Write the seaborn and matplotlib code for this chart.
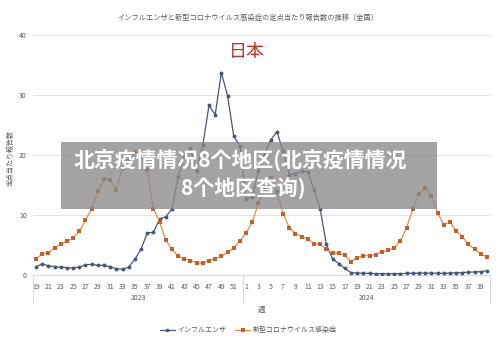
import numpy as np
import pandas as pd
import matplotlib
matplotlib.use("Agg")
import matplotlib.pyplot as plt
import matplotlib.transforms as mtransforms
from matplotlib.lines import Line2D
import seaborn as sns

# ---- data ----
weeks_2023 = list(range(19, 53))
weeks_2024 = list(range(1, 41))
week_labels = [str(w) for w in weeks_2023] + [str(w) for w in weeks_2024]

flu = [1.36, 1.86, 1.5, 1.4, 1.3, 1.2, 1.15, 1.3, 1.7, 1.75, 1.6, 1.6, 1.35, 1.03, 0.95, 1.3,
       2.6, 4.3, 7.0, 7.1, 9.3, 9.7, 11.0, 16.4, 19.7, 21.1, 17.3, 21.6, 28.3, 26.7, 33.7, 29.9,
       23.2, 21.5,
       12.6, 13.0, 17.4, 20.2, 22.5, 23.9, 20.6, 16.7, 16.9, 17.3, 17.2, 14.2, 11.0, 5.1, 2.7, 1.9,
       1.1, 0.37, 0.3, 0.28, 0.25, 0.22, 0.2, 0.2, 0.2, 0.22, 0.25, 0.28, 0.3, 0.3, 0.3, 0.28,
       0.25, 0.3, 0.35, 0.4, 0.45, 0.5, 0.55, 0.7]

covid = [2.63, 3.56, 3.63, 4.55, 5.11, 5.60, 6.13, 7.24, 9.14, 11.04, 13.91, 15.91, 15.81, 14.16,
         17.84, 19.07, 20.50, 20.19, 17.54, 11.0, 8.83, 5.8, 4.3, 3.1, 2.7, 2.4, 2.0, 2.0, 2.4, 2.7,
         3.1, 3.8, 4.5, 5.6,
         7.0, 8.8, 12.0, 14.4, 16.2, 13.9, 10.2, 7.9, 6.9, 6.4, 6.0, 5.2, 5.1, 4.3, 3.6, 3.7,
         3.3, 2.2, 2.9, 3.2, 3.2, 3.4, 3.9, 4.1, 4.5, 5.7, 7.9, 11.0, 13.5, 14.5, 13.2, 10.4,
         8.4, 8.8, 7.4, 6.4, 5.1, 4.3, 3.5, 3.0]

series_names = ["インフルエンザ", "新型コロナウイルス感染症"]
years = ["2023", "2024"]
y_ticks = [0, 10, 20, 30, 40]

title = "インフルエンザと新型コロナウイルス感染症の定点当たり報告数の推移（全国）"
ylabel = "定点当たり報告数"
xlabel = "週"
overlay_title = "日本"
watermark_line1 = "北京疫情情况8个地区(北京疫情情况"
watermark_line2 = "8个地区查询)"

# ---- style ----
sns.set_style("white")
plt.rcParams["font.family"] = ["Noto Sans CJK JP", "DejaVu Sans"]

idx = np.arange(len(flu))
df = pd.DataFrame({"idx": np.concatenate([idx, idx]),
                   "value": flu + covid,
                   "series": [series_names[0]] * len(flu) + [series_names[1]] * len(covid)})

fig = plt.figure(figsize=(5.0, 3.52), dpi=100)
ax = fig.add_axes([0.066, 0.219, 0.914, 0.6816])

c_flu = "#47577A"
c_cov_line = "#ED8A45"
c_cov_mark = "#C0622A"

sns.lineplot(data=df[df.series == series_names[0]], x="idx", y="value", ax=ax,
             color=c_flu, lw=0.9, marker="o", markersize=2.8, markeredgewidth=0,
             markerfacecolor=c_flu, legend=False, zorder=3)
sns.lineplot(data=df[df.series == series_names[1]], x="idx", y="value", ax=ax,
             color=c_cov_line, lw=0.9, marker="s", markersize=2.7, markeredgewidth=0,
             markerfacecolor=c_cov_mark, legend=False, zorder=3)

ax.set_xlim(-0.5, len(flu) - 0.5)
ax.set_ylim(0, 40)
ax.set_yticks(y_ticks)
ax.set_yticklabels([str(t) for t in y_ticks])
ax.yaxis.grid(True, color="#e3e3e3", lw=0.7)
ax.set_axisbelow(True)
tick_pos = [i for i, w in enumerate(week_labels) if int(w) % 2 == 1]
ax.set_xticks(tick_pos)
ax.set_xticklabels([week_labels[i] for i in tick_pos])
ax.tick_params(axis="both", length=0, labelsize=5, colors="#595959")
ax.tick_params(axis="x", pad=5.5)
ax.tick_params(axis="y", pad=4.5)
for s in ["left", "right", "top"]:
    ax.spines[s].set_visible(False)
ax.spines["bottom"].set_color("#d9d9d9")
ax.spines["bottom"].set_linewidth(0.8)
ax.set_xlabel("")
ax.set_ylabel("")

# year separators and labels
trans = mtransforms.blended_transform_factory(ax.transData, ax.transAxes)
n23 = len(weeks_2023)
for xv in [-0.5, n23 - 0.5, len(flu) - 0.5]:
    ax.plot([xv, xv], [0, -0.117], transform=trans, color="#d9d9d9", lw=0.8, clip_on=False)
ax.text((n23 - 1) / 2, -0.098, years[0], transform=trans, ha="center", va="center",
        fontsize=5, color="#595959")
ax.text(n23 + (len(weeks_2024) - 1) / 2, -0.098, years[1], transform=trans, ha="center",
        va="center", fontsize=5, color="#595959")

fig.text(262 / 500, 1 - 310 / 352, xlabel, ha="center", va="center", fontsize=5.5, color="#595959")
fig.text(11 / 500, 1 - 158 / 352, ylabel, ha="center", va="center", rotation=90,
         fontsize=5, color="#595959")
fig.text(248 / 500, 1 - 18 / 352, title, ha="center", va="center", fontsize=5.2, color="#595959")
fig.text(247 / 500, 1 - 52 / 352, overlay_title, ha="center", va="center", fontsize=13,
         color="#B8312A")

handles = [Line2D([], [], color=c_flu, lw=0.9, marker="o", markersize=2.6, markeredgewidth=0),
           Line2D([], [], color=c_cov_line, lw=0.9, marker="s", markersize=2.6,
                  markeredgewidth=0, markerfacecolor=c_cov_mark)]
fig.legend(handles, series_names, loc="center", bbox_to_anchor=(0.497, 1 - 330 / 352), ncol=2,
           frameon=False, fontsize=5, handlelength=2.2, columnspacing=1.2, handletextpad=0.4,
           labelcolor="#595959")

# watermark overlay
fig.patches.append(plt.Rectangle((61 / 500, 1 - 209 / 352), (437 - 61) / 500, (209 - 142) / 352,
                                 transform=fig.transFigure, facecolor="#8a8a8a", alpha=0.78,
                                 edgecolor="none", zorder=10))
fig.text(240 / 500, 1 - 160 / 352, watermark_line1, ha="center", va="center", fontsize=15,
         fontweight="bold", color="white", zorder=11)
fig.text(243 / 500, 1 - 189 / 352, watermark_line2, ha="center", va="center", fontsize=15,
         fontweight="bold", color="white", zorder=11)

fig.savefig("out.png", dpi=100)
